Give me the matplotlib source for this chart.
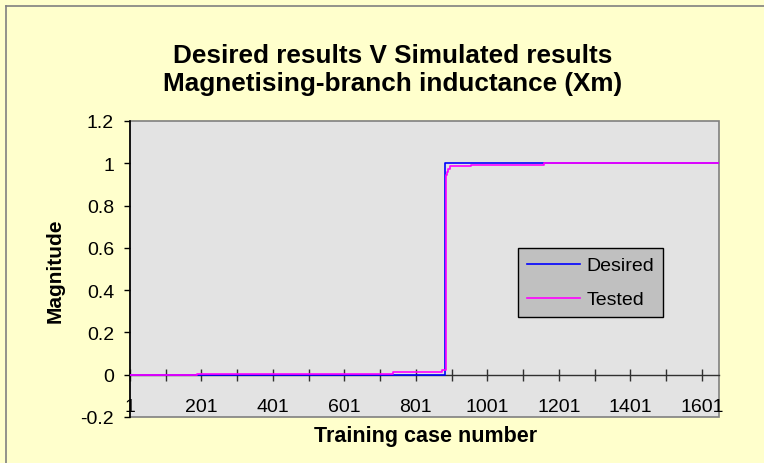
import matplotlib
matplotlib.use('Agg')
import matplotlib.pyplot as plt
from matplotlib.patches import Rectangle
from matplotlib.lines import Line2D

# step breakpoints (value holds until the next case number)
desired_x = [1, 882, 1649]
desired_y = [0.0, 1.0, 1.0]

tested_x = [1, 188, 737, 873, 884, 887, 890, 895, 954, 1160, 1649]
tested_y = [0.0, 0.005, 0.013, 0.02, 0.945, 0.96, 0.972, 0.985, 0.993, 1.0, 1.0]

x_major = list(range(1, 1602, 100))
x_labels = ['1' if v == 1 else (str(v) if (v - 1) % 200 == 0 else '') for v in x_major]
y_ticks = [-0.2, 0, 0.2, 0.4, 0.6, 0.8, 1, 1.2]
y_labels = ['-0.2', '0', '0.2', '0.4', '0.6', '0.8', '1', '1.2']

plt.rcParams['font.family'] = ['Liberation Sans', 'DejaVu Sans']

W, H = 764, 464
fig = plt.figure(figsize=(W / 100, H / 100), dpi=100)
fig.patch.set_facecolor('#FFFFCC')

# outer chart border (only top and left visible in the crop)
fig.lines.append(Line2D([6 / W, 6 / W], [0, 1 - 7 / H], transform=fig.transFigure,
                        color='#808080', linewidth=1.2))
fig.lines.append(Line2D([6 / W, 1], [1 - 7 / H, 1 - 7 / H], transform=fig.transFigure,
                        color='#808080', linewidth=1.2))

ax = fig.add_axes([130 / W, 1 - 418 / H, (719 - 130) / W, (418 - 122) / H])
ax.set_facecolor('#E3E3E3')

ax.step(desired_x, desired_y, where='post', color='#0000FF', linewidth=1.2, label='Desired', zorder=3)
ax.step(tested_x, tested_y, where='post', color='#FF00FF', linewidth=1.2, label='Tested', zorder=4)

ax.set_xlim(1, 1649)
ax.set_ylim(-0.2, 1.2)

# plot area border
ax.add_patch(Rectangle((0, 0), 1, 1, transform=ax.transAxes, fill=False,
                       edgecolor='#808080', linewidth=1.2, clip_on=False, zorder=1))
for s in ['top', 'right']:
    ax.spines[s].set_visible(False)
ax.spines['left'].set_color('black')
ax.spines['left'].set_linewidth(1.2)
ax.spines['bottom'].set_position(('data', 0))
ax.spines['bottom'].set_color('#303030')
ax.spines['bottom'].set_linewidth(1.0)

ax.set_xticks(x_major)
ax.set_xticklabels(x_labels)
ax.set_yticks(y_ticks)
ax.set_yticklabels(y_labels)
ax.tick_params(axis='x', direction='inout', length=9, width=1, color='#303030',
               labelsize=14, pad=12)
ax.tick_params(axis='y', direction='out', length=4.5, width=1, labelsize=14, pad=7)

fig.text(426 / W, 1 - 437 / H, 'Training case number', ha='center', va='center',
         fontsize=15.5, fontweight='bold')
fig.text(55 / W, 1 - 271 / H, 'Magnitude', ha='center', va='center', rotation=90,
         fontsize=15, fontweight='bold')
fig.text(393 / W, 1 - 70 / H, 'Desired results V Simulated results\nMagnetising-branch inductance (Xm)',
         ha='center', va='center', fontsize=18.8, fontweight='bold', linespacing=1.25)

leg = ax.legend(loc='upper left', bbox_to_anchor=(0.659, 0.571), borderaxespad=0,
                fontsize=14, handlelength=2.75, handletextpad=0.3, labelspacing=0.85,
                borderpad=0.45, fancybox=False, framealpha=1, facecolor='#C0C0C0',
                edgecolor='black')
leg.get_frame().set_linewidth(1.0)

fig.savefig('out.png', dpi=100, facecolor=fig.get_facecolor())
